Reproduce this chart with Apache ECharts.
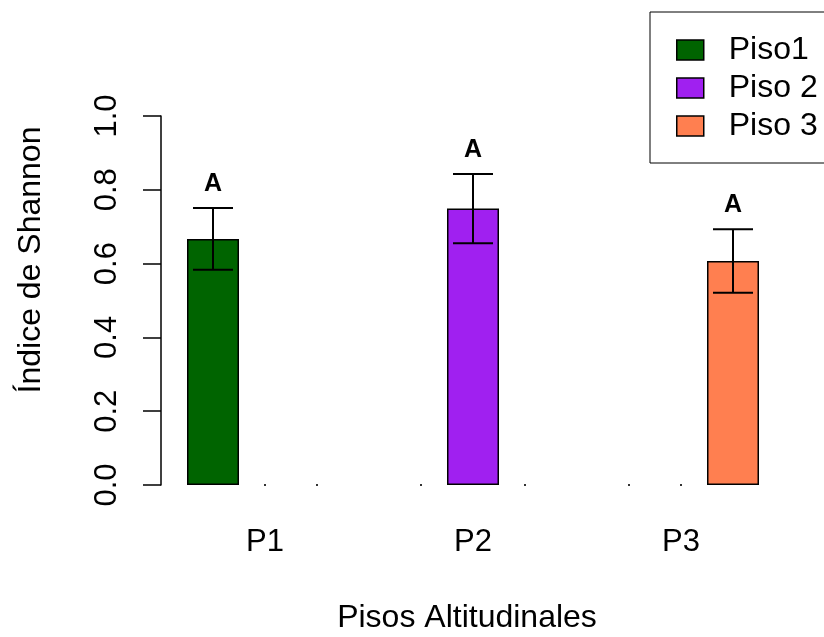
<!DOCTYPE html>
<html>
<head>
<meta charset="utf-8">
<script src="https://cdn.jsdelivr.net/npm/echarts@6/dist/echarts.min.js"></script>
<style>
  html, body { margin: 0; padding: 0; background: #fff; }
  #chart { width: 824px; height: 637px; }
</style>
</head>
<body>
<div id="chart"></div>
<script>
const categories = ["P1", "P2", "P3"];
const pisos = ["Piso1", "Piso 2", "Piso 3"];
// one row per piso, one value per category (0 = no bar)
const piso1 = [0.667, 0, 0];
const piso2 = [0, 0.749, 0];
const piso3 = [0, 0, 0.607];
const se1 = [0.084, 0, 0];
const se2 = [0, 0.094, 0];
const se3 = [0, 0, 0.086];
const letters = ["A", "A", "A"];
const yTicks = [0, 0.2, 0.4, 0.6, 0.8, 1.0];

const colors = ["#006400", "#A020F0", "#FF7F50"];
const font = "Liberation Sans, Arial, sans-serif";

const means = [piso1, piso2, piso3];
const ses = [se1, se2, se3];

// error bar rows: [category, piso index, low, high]
const errRows = [];
means.forEach((row, k) => {
  row.forEach((m, c) => {
    errRows.push([c, k, m - ses[k][c], m + ses[k][c]]);
  });
});

const chart = echarts.init(document.getElementById("chart"));

const option = {
  animation: false,
  textStyle: { fontFamily: font, color: "#000" },
  grid: { left: 161, top: 116, width: 624, height: 369, outerBoundsMode: "none" },
  legend: {
    data: pisos,
    orient: "vertical",
    left: 650,
    top: 12,
    padding: [22, 40, 21, 26],
    itemWidth: 27,
    itemHeight: 20,
    itemGap: 6,
    borderColor: "#000",
    borderWidth: 1,
    selectedMode: false,
    icon: "rect",
    itemStyle: { borderColor: "#000", borderWidth: 1.5 },
    textStyle: { fontFamily: font, fontSize: 32, color: "#000", padding: [0, 0, 0, 20] }
  },
  graphic: [
    {
      type: "text",
      x: 467,
      y: 618,
      style: {
        text: "Pisos Altitudinales",
        fontFamily: font,
        fontSize: 32,
        fill: "#000",
        align: "center",
        verticalAlign: "middle"
      }
    },
    {
      type: "text",
      x: 31,
      y: 260,
      rotation: Math.PI / 2,
      style: {
        text: "Índice de Shannon",
        fontFamily: font,
        fontSize: 32,
        fill: "#000",
        align: "center",
        verticalAlign: "middle"
      }
    }
  ],
  xAxis: {
    type: "category",
    data: categories,
    axisLine: { show: false },
    axisTick: { show: false },
    axisLabel: { fontSize: 31, color: "#000", margin: 42, fontFamily: font }
  },
  yAxis: {
    type: "value",
    min: 0,
    max: 1,
    interval: 0.2,
    splitLine: { show: false },
    axisLine: { show: true, lineStyle: { color: "#000", width: 1.5 } },
    axisTick: { show: true, length: 18, lineStyle: { color: "#000", width: 1.5 } },
    axisLabel: {
      rotate: 90,
      fontSize: 31,
      color: "#000",
      margin: 38,
      fontFamily: font,
      formatter: (v) => yTicks.includes(v) ? v.toFixed(1) : ""
    }
  },
  series: [
    ...pisos.map((name, k) => ({
      name: name,
      type: "bar",
      barGap: "0%",
      barCategoryGap: "25%",
      data: means[k].map((v) => (v === 0 ? null : v)),
      itemStyle: { color: colors[k], borderColor: "#000", borderWidth: 1.5 }
    })),
    {
      type: "custom",
      data: errRows,
      encode: { x: 0, y: [2, 3] },
      clip: false,
      z: 10,
      renderItem: (params, api) => {
        const cat = api.value(0);
        const k = api.value(1);
        const lo = api.value(2);
        const hi = api.value(3);
        const band = api.size([1, 0])[0];
        const bw = band * 0.75 / 3;
        const x = api.coord([cat, 0])[0] + (k - 1) * bw;
        const yLo = api.coord([cat, lo])[1];
        const yHi = api.coord([cat, hi])[1];
        if (hi === lo) {
          return {
            type: "rect",
            shape: { x: x - 1, y: yLo - 1, width: 2, height: 2 },
            style: { fill: "#333" }
          };
        }
        const half = 20;
        const ls = { stroke: "#000", lineWidth: 2 };
        const yTxt = api.coord([cat, hi + 0.065])[1];
        return {
          type: "group",
          children: [
            { type: "line", shape: { x1: x, y1: yLo, x2: x, y2: yHi }, style: ls },
            { type: "line", shape: { x1: x - half, y1: yHi, x2: x + half, y2: yHi }, style: ls },
            { type: "line", shape: { x1: x - half, y1: yLo, x2: x + half, y2: yLo }, style: ls },
            {
              type: "text",
              x: x,
              y: yTxt,
              style: {
                text: letters[cat],
                fontFamily: font,
                fontSize: 25,
                fontWeight: "bold",
                fill: "#000",
                align: "center",
                verticalAlign: "middle"
              }
            }
          ]
        };
      }
    }
  ]
};

chart.setOption(option);
</script>
</body>
</html>
